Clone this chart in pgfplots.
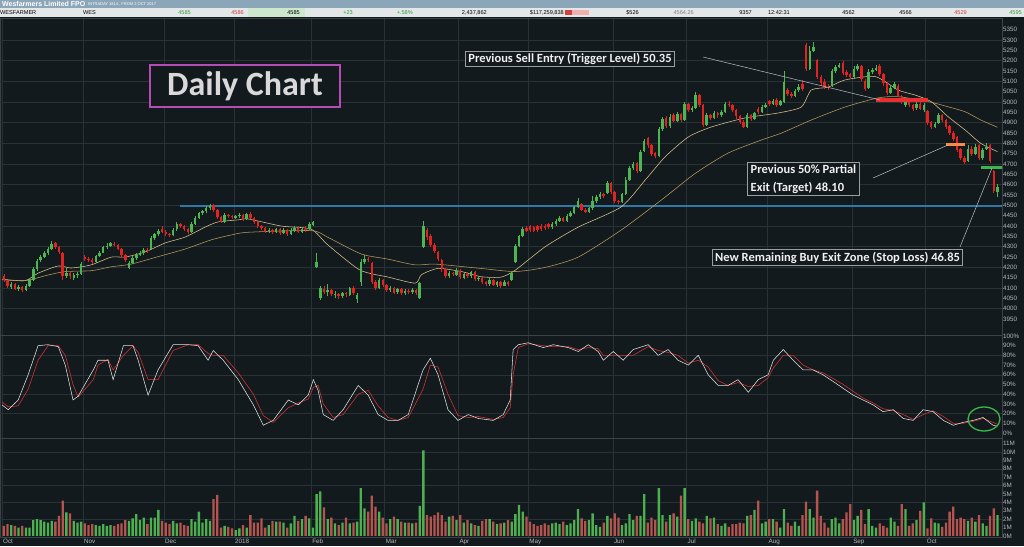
\documentclass[border=0pt]{standalone}
\usepackage{pgfplots}
\pgfplotsset{compat=1.18}
\usepackage{pgfplotstable}
\usepackage{fontspec}
\setmainfont{Liberation Sans}
\newfontfamily\calib{Carlito}
\definecolor{bg}{HTML}{131A1E}
\definecolor{gridc}{HTML}{283136}
\definecolor{sepc}{HTML}{3A4448}
\definecolor{cup}{HTML}{4DB552}
\definecolor{cdn}{HTML}{E32222}
\definecolor{vup}{HTML}{4CAF50}
\definecolor{vdn}{HTML}{B5534E}
\definecolor{maf}{HTML}{D8C48C}
\definecolor{mas}{HTML}{B89A5C}
\definecolor{tickc}{HTML}{B4B8BA}
\definecolor{lvlblue}{HTML}{2F79A8}
\definecolor{titlebar}{HTML}{8CA6B9}
\definecolor{rowbg}{HTML}{E4E7E8}
\definecolor{boxline}{HTML}{9A9FA3}
\definecolor{magbox}{HTML}{B54BB5}
\definecolor{txtg}{HTML}{2E9E3A}
\definecolor{txtr}{HTML}{D03A3A}

\pgfplotstableread{
i o h l c v
0 4160 4170 4130 4140 1.2
1 4135 4140 4100 4110 1.4
2 4105 4130 4095 4120 1.3
3 4120 4125 4090 4095 1.2
4 4095 4115 4085 4105 1.0
5 4105 4110 4080 4090 1.2
6 4090 4118 4085 4110 1.0
7 4110 4150 4105 4140 1.0
8 4140 4200 4135 4190 1.9
9 4190 4240 4185 4230 2.0
10 4235 4260 4225 4250 1.9
11 4250 4280 4245 4270 1.7
12 4270 4300 4262 4290 1.6
13 4290 4330 4285 4315 1.8
14 4318 4325 4290 4300 1.7
15 4300 4305 4265 4275 2.4
16 4270 4275 4140 4160 4.2
17 4160 4195 4150 4175 2.8
18 4175 4185 4145 4160 2.7
19 4150 4175 4140 4165 1.8
20 4165 4180 4150 4170 1.6
21 4170 4225 4165 4215 1.7
22 4250 4258 4230 4240 1.5
23 4240 4250 4225 4235 1.3
24 4235 4245 4218 4228 1.4
25 4228 4262 4222 4255 1.3
26 4255 4280 4250 4272 1.2
27 4272 4305 4268 4298 1.4
28 4298 4318 4290 4305 1.2
29 4305 4325 4298 4318 1.3
30 4315 4324 4302 4310 1.2
31 4310 4315 4282 4290 1.4
32 4290 4294 4250 4260 1.5
33 4262 4266 4225 4235 1.9
34 4195 4230 4190 4220 1.8
35 4220 4255 4215 4245 2.1
36 4245 4270 4238 4262 2.6
37 4262 4278 4255 4270 1.9
38 4270 4295 4262 4285 2.2
39 4285 4292 4272 4280 1.4
40 4290 4350 4285 4340 2.2
41 4340 4368 4335 4360 2.2
42 4360 4385 4352 4378 3.1
43 4385 4400 4365 4370 1.8
44 4372 4380 4352 4362 1.6
45 4360 4368 4345 4358 1.4
46 4355 4390 4350 4380 1.8
47 4385 4418 4378 4410 1.5
48 4410 4415 4390 4398 1.6
49 4398 4405 4378 4385 1.3
50 4385 4392 4362 4372 1.2
51 4372 4418 4368 4410 2.0
52 4410 4448 4405 4440 1.7
53 4440 4470 4435 4462 2.9
54 4462 4480 4455 4472 1.6
55 4472 4495 4465 4488 2.0
56 4488 4508 4480 4498 1.8
57 4500 4505 4470 4478 4.4
58 4478 4482 4435 4442 4.9
59 4442 4448 4415 4422 1.0
60 4420 4462 4415 4455 1.2
61 4455 4460 4440 4450 1.1
62 4450 4455 4432 4442 0.9
63 4440 4455 4432 4448 0.7
64 4448 4462 4440 4455 0.9
65 4455 4460 4425 4432 1.3
66 4432 4465 4428 4458 1.0
67 4460 4468 4432 4440 2.5
68 4440 4445 4410 4420 1.6
69 4420 4425 4392 4400 1.6
70 4400 4405 4380 4390 2.1
71 4390 4395 4365 4375 1.0
72 4375 4390 4368 4382 1.3
73 4382 4388 4362 4370 1.8
74 4370 4392 4365 4385 1.7
75 4385 4390 4358 4365 1.7
76 4365 4390 4360 4380 1.6
77 4380 4385 4352 4360 1.0
78 4360 4392 4355 4378 1.5
79 4378 4400 4370 4392 2.4
80 4392 4398 4365 4372 1.8
81 4372 4395 4368 4388 2.0
82 4388 4398 4372 4380 2.4
83 4385 4418 4380 4410 2.1
84 4405 4425 4398 4420 1.0
85 4200 4270 4195 4225 5.0
86 4050 4110 4040 4100 5.3
87 4095 4108 4070 4080 3.4
88 4080 4120 4060 4090 2.0
89 4090 4095 4060 4070 2.2
90 4068 4085 4050 4072 1.5
91 4070 4075 4048 4062 1.3
92 4062 4082 4050 4075 1.6
93 4075 4080 4055 4070 2.2
94 4068 4105 4062 4100 1.5
95 4100 4110 4068 4075 1.6
96 4045 4075 4030 4065 1.7
97 4130 4240 4110 4225 5.7
98 4225 4260 4215 4240 3.3
99 4240 4250 4225 4235 2.9
100 4220 4225 4120 4130 4.8
101 4130 4140 4090 4100 3.5
102 4100 4150 4095 4140 2.9
103 4140 4145 4105 4115 2.2
104 4115 4120 4082 4090 1.5
105 4090 4110 4080 4100 2.0
106 4100 4105 4070 4078 2.3
107 4080 4102 4072 4095 2.0
108 4095 4100 4068 4075 1.7
109 4075 4095 4068 4088 1.6
110 4088 4095 4072 4080 1.6
111 4080 4098 4072 4092 1.5
112 4090 4095 4068 4078 1.6
113 4050 4130 4045 4125 3.6
114 4300 4425 4295 4400 10.2
115 4380 4390 4335 4345 2.5
116 4350 4360 4300 4310 2.3
117 4310 4318 4270 4280 2.5
118 4275 4280 4232 4240 2.8
119 4235 4240 4180 4190 2.5
120 4190 4195 4150 4160 1.7
121 4160 4185 4150 4172 2.3
122 4172 4180 4158 4168 2.4
123 4165 4195 4160 4182 1.9
124 4185 4190 4145 4152 2.5
125 4150 4180 4142 4170 1.6
126 4170 4178 4150 4158 1.9
127 4158 4185 4150 4178 1.5
128 4178 4182 4135 4142 1.3
129 4142 4160 4135 4150 1.2
130 4150 4155 4118 4128 1.8
131 4128 4135 4110 4120 2.0
132 4120 4148 4112 4140 2.0
133 4140 4145 4108 4115 1.7
134 4115 4135 4105 4128 1.4
135 4128 4132 4100 4112 1.5
136 4112 4138 4108 4130 1.6
137 4130 4135 4110 4120 1.9
138 4140 4180 4135 4175 1.7
139 4225 4312 4220 4305 2.6
140 4305 4358 4298 4350 3.7
141 4350 4395 4345 4385 2.9
142 4390 4398 4370 4378 2.3
143 4398 4405 4372 4380 1.7
144 4395 4402 4370 4378 1.4
145 4398 4405 4372 4382 1.2
146 4400 4408 4378 4385 1.3
147 4402 4410 4382 4390 1.5
148 4408 4415 4388 4395 1.3
149 4395 4418 4388 4410 1.5
150 4410 4432 4402 4425 1.6
151 4425 4448 4420 4440 1.4
152 4440 4445 4418 4425 1.7
153 4425 4458 4420 4450 1.3
154 4450 4472 4445 4465 1.5
155 4465 4498 4460 4490 1.9
156 4490 4535 4485 4520 3.2
157 4505 4510 4472 4480 2.1
158 4480 4488 4462 4470 1.8
159 4470 4492 4465 4485 1.9
160 4485 4545 4480 4520 2.7
161 4520 4550 4512 4540 1.3
162 4540 4565 4530 4555 1.1
163 4555 4560 4538 4545 1.6
164 4560 4620 4555 4610 2.4
165 4610 4615 4555 4565 2.1
166 4565 4570 4510 4520 2.7
167 4520 4528 4505 4515 2.2
168 4515 4562 4510 4555 1.3
169 4555 4635 4550 4625 1.5
170 4625 4690 4620 4680 2.6
171 4680 4712 4672 4700 1.9
172 4705 4712 4655 4665 2.4
173 4665 4768 4660 4760 2.4
174 4765 4820 4758 4812 5.0
175 4825 4832 4780 4790 1.6
176 4790 4795 4740 4750 2.2
177 4752 4760 4728 4738 1.9
178 4738 4880 4735 4870 5.7
179 4870 4930 4862 4920 2.5
180 4925 4932 4875 4882 1.7
181 4882 4940 4875 4930 2.5
182 4935 4945 4902 4910 2.7
183 4910 4950 4905 4942 2.3
184 4942 4948 4905 4915 4.8
185 4915 5000 4910 4990 5.7
186 4990 4995 4950 4960 2.0
187 4960 4980 4950 4972 1.8
188 4972 5050 4965 5035 2.1
189 5035 5040 4975 4985 1.7
190 4985 4990 4880 4890 1.5
191 4890 4945 4882 4935 2.4
192 4935 4942 4915 4925 2.1
193 4925 4955 4918 4948 2.2
194 4948 4952 4925 4935 1.4
195 4935 4960 4928 4952 1.2
196 4952 4998 4945 4990 1.5
197 4990 5005 4978 4985 1.1
198 4985 4990 4950 4960 1.4
199 4960 4965 4920 4932 1.4
200 4932 4938 4895 4905 1.6
201 4905 4912 4872 4880 1.5
202 4880 4945 4875 4935 2.4
203 4935 4942 4910 4920 2.5
204 4920 4952 4915 4945 3.1
205 4965 4975 4940 4950 4.2
206 4950 4985 4945 4975 1.5
207 4975 4995 4970 4985 1.7
208 5005 5012 4982 4990 2.0
209 4990 5015 4985 5005 2.0
210 5010 5018 4978 4985 1.7
211 4985 5012 4980 5005 1.0
212 5000 5150 4995 5095 3.2
213 5060 5070 5030 5040 1.6
214 5040 5050 5020 5030 1.2
215 5030 5065 5025 5055 1.7
216 5060 5085 5050 5075 1.2
217 5085 5105 5055 5065 2.5
218 5275 5285 5150 5160 4.1
219 5160 5270 5155 5245 3.2
220 5245 5290 5240 5265 2.2
221 5205 5210 5110 5120 5.4
222 5120 5130 5080 5090 2.4
223 5095 5110 5065 5075 1.6
224 5075 5085 5058 5068 1.0
225 5080 5160 5075 5150 2.0
226 5150 5180 5140 5170 2.2
227 5170 5190 5165 5178 1.5
228 5190 5200 5130 5140 2.0
229 5145 5155 5120 5130 2.8
230 5135 5140 5110 5120 3.8
231 5120 5175 5110 5160 1.9
232 5160 5185 5150 5175 2.4
233 5175 5180 5100 5110 3.1
234 5100 5110 5055 5065 1.4
235 5070 5160 5065 5145 3.2
236 5145 5165 5135 5155 1.2
237 5155 5178 5148 5165 1.0
238 5175 5185 5125 5135 1.5
239 5135 5140 5080 5090 1.2
240 5090 5095 5035 5045 1.0
241 5045 5080 5040 5070 2.2
242 5070 5095 5062 5085 1.7
243 5080 5085 5022 5030 1.2
244 5030 5035 4990 5000 3.8
245 4985 5018 4978 5010 3.2
246 5005 5010 4975 4985 1.2
247 4985 4990 4955 4965 1.5
248 4970 4998 4962 4990 1.9
249 4990 4998 4960 4968 3.0
250 4960 4995 4950 4985 4.0
251 4955 4962 4890 4900 0.9
252 4905 4910 4870 4878 2.1
253 4880 4905 4872 4895 1.6
254 4900 4945 4895 4938 1.5
255 4935 4940 4905 4912 1.1
256 4912 4918 4870 4880 1.6
257 4885 4890 4840 4850 2.9
258 4850 4858 4810 4820 3.5
259 4830 4835 4760 4770 2.0
260 4775 4780 4720 4730 2.2
261 4730 4740 4700 4710 2.0
262 4715 4790 4710 4775 1.8
263 4775 4785 4740 4750 2.2
264 4750 4795 4745 4782 1.7
265 4790 4795 4720 4730 2.5
266 4730 4780 4722 4770 1.5
267 4775 4800 4768 4782 1.2
268 4790 4795 4705 4715 2.4
269 4665 4670 4560 4570 3.3
270 4565 4605 4540 4590 2.5
}\candles

\pgfplotstableread{
x v
0 4143
6.3 4136
9.8 4172
15.3 4207
18.8 4197
24.2 4212
29.7 4250
33.5 4250
38.9 4275
44.3 4318
49.8 4347
55.2 4395
58.7 4420
64.2 4430
67.0 4434
75.9 4400
84.0 4385
88.6 4308
97.3 4187
105.0 4153
112.3 4124
114.0 4165
118.5 4195
124.8 4180
130.2 4155
135.6 4153
139.5 4187
147.6 4300
156.6 4395
168.2 4492
174.8 4623
180.2 4735
186.5 4831
192.7 4879
201.9 4923
210.9 4947
217.2 4976
219.9 5058
224.5 5072
229.1 5107
237.3 5123
243.5 5058
248.1 5034
252.5 5002
257.1 4929
261.7 4865
266.0 4800
270.5 4760
}\mafast

\pgfplotstableread{
x v
0 4140
6.3 4136
12.5 4163
17.2 4180
24.2 4184
29.7 4203
35.1 4216
42.4 4252
49.8 4289
56.8 4333
62.3 4357
66.9 4370
84.0 4378
88.6 4345
97.6 4265
104.9 4240
112.3 4212
117.7 4216
130.2 4195
139.4 4180
147.6 4200
156.6 4250
168.2 4380
179.1 4525
188.4 4655
197.3 4753
206.3 4816
211.7 4849
219.9 4913
229.1 4976
238.0 5020
243.5 5026
251.7 5002
257.1 4977
261.7 4953
266.0 4913
270.5 4878
}\maslow

\pgfplotstableread{
x k d
0 29 32
1.7 24 27
4.4 34 28
7.1 60 45
9.8 90 75
12.5 91 90
15.3 89 90
17.2 70 80
19.3 34 50
20.7 38 37
24.8 65 55
26.1 75 70
28.8 75 76
30.2 55 65
33.0 90 80
35.6 90 90
37.0 75 83
39.7 39 55
42.4 65 55
46.5 91 85
50.6 91 91
53.3 90 91
56.0 75 82
57.4 85 80
60.1 75 80
64.2 55 62
68.3 29 40
71.0 8 18
73.7 13 11
77.8 34 26
80.5 29 31
83.2 39 35
84.6 55 47
85.9 44 49
87.3 19 30
90.0 13 16
92.7 24 19
96.8 49 40
99.5 39 44
102.2 19 28
104.9 13 16
107.6 13 13
110.4 19 16
114.4 65 45
116.4 77 70
118.5 60 68
121.2 24 40
123.9 13 18
126.7 19 16
129.4 15 17
133.5 13 14
136.2 19 16
138.1 34 26
138.9 86 60
140.3 91 88
143.0 93 92
147.1 88 90
149.8 91 89
153.9 88 89
156.6 84 86
159.3 91 88
162.0 84 87
163.4 75 80
166.1 84 80
168.8 75 80
171.5 86 80
175.6 91 89
178.3 80 85
181.0 86 83
183.7 75 80
186.5 70 72
189.2 80 75
191.9 60 68
194.6 49 54
197.3 49 49
200.0 55 52
202.8 42 48
205.5 55 49
208.2 60 57
209.6 75 67
212.3 86 80
215.0 75 80
217.7 65 70
220.4 65 65
223.1 60 62
225.9 53 56
228.6 46 50
231.3 39 43
234.0 34 36
236.7 29 31
239.4 22 25
242.2 24 23
244.9 15 19
247.6 13 14
250.3 24 19
253.0 22 23
255.8 13 17
258.5 8 10
261.2 11 10
263.9 13 12
266.6 16 15
269.3 8 11
270.5 7 9
}\stoch

\pgfplotsset{
  panel/.style={scale only axis, width=1002pt,
    xmin=-0.543, xmax=271.74,
    axis background/.style={fill=bg},
    axis line style={draw=sepc},
    xtick={0,22,44,63,84,104,124,143,166,186,208,231,251},
    xmajorgrids, grid style={gridc, line width=0.5pt},
    major tick length=0pt, minor tick length=0pt,
    yticklabel pos=right,
    yticklabel style={font=\fontsize{6.3}{7}\selectfont, text=tickc, anchor=west, inner sep=1pt},
    /pgf/number format/assume math mode=true,
    /pgf/number format/1000 sep={}},
}

\begin{document}
\begin{tikzpicture}
\useasboundingbox (0pt,0pt) rectangle (1024pt,546pt);
\fill[bg] (0pt,0pt) rectangle (1024pt,546pt);

% ---------- price panel
\begin{axis}[panel, at={(0pt,211pt)}, anchor=south west, height=317pt,
  ymin=3873, ymax=5406.6,
  ytick={3950,4000,...,5350},
  extra y ticks={4000,4100,...,5300}, extra y tick labels={},
  extra y tick style={grid=major},
  xticklabels={}]
% level line
\addplot[lvlblue, line width=2pt, forget plot] coordinates {(48.4,4496) (272,4496)};
% moving averages
\addplot[maf, line width=0.55pt, smooth, tension=0.4] table[x=x,y=v] {\mafast};
\addplot[mas, line width=0.55pt, smooth, tension=0.4] table[x=x,y=v] {\maslow};
% wicks (segments low -> high)
\addplot[-, cup, line width=0.6pt, forget plot, quiver={u=0, v=\thisrow{h}-\thisrow{l}}]
  table[x expr=\thisrow{i}+0.5, y=l, restrict expr to domain={\thisrow{c}-\thisrow{o}}{0:10000}] {\candles};
\addplot[-, cdn, line width=0.6pt, forget plot, quiver={u=0, v=\thisrow{h}-\thisrow{l}}]
  table[x expr=\thisrow{i}+0.5, y=l, restrict expr to domain={\thisrow{c}-\thisrow{o}}{-10000:-0.01}] {\candles};
% bodies (segments open -> close)
\addplot[-, cup, line width=2.5pt, forget plot, quiver={u=0, v={max(\thisrow{c}-\thisrow{o},3)}}]
  table[x expr=\thisrow{i}+0.5, y=o, restrict expr to domain={\thisrow{c}-\thisrow{o}}{0:10000}] {\candles};
\addplot[-, cdn, line width=2.5pt, forget plot, quiver={u=0, v={max(\thisrow{o}-\thisrow{c},3)}}]
  table[x expr=\thisrow{i}+0.5, y=c, restrict expr to domain={\thisrow{c}-\thisrow{o}}{-10000:-0.01}] {\candles};
% trade levels
\addplot[color={rgb,255:red,232;green,48;blue,48}, line width=3.6pt, forget plot] coordinates {(237.5,5010) (251.7,5010)};
\addplot[color={rgb,255:red,245;green,140;blue,70}, line width=3pt, forget plot] coordinates {(256.6,4796) (261.7,4796)};
\addplot[color={rgb,255:red,60;green,180;blue,80}, line width=3pt, forget plot] coordinates {(266.1,4683) (272,4683)};
\end{axis}

% ---------- stochastic panel
\begin{axis}[panel, at={(0pt,108pt)}, anchor=south west, height=103pt,
  ymin=-5.15, ymax=101,
  ytick={0,10,...,100},
  yticklabels={0\%,10\%,20\%,30\%,40\%,50\%,60\%,70\%,80\%,90\%,100\%},
  extra y ticks={20,40,60,80}, extra y tick labels={},
  extra y tick style={grid=major},
  xticklabels={}]
\addplot[color={rgb,255:red,220;green,50;blue,50}, line width=0.55pt] table[x=x,y=d] {\stoch};
\addplot[color={rgb,255:red,225;green,225;blue,225}, line width=0.55pt] table[x=x,y=k] {\stoch};
\end{axis}

% ---------- volume panel
\begin{axis}[panel, at={(0pt,9pt)}, anchor=south west, height=99pt,
  ymin=-0.12, ymax=11.67,
  ytick={0,1,...,11},
  yticklabels={0M,1M,2M,3M,4M,5M,6M,7M,8M,9M,10M,11M},
  extra y ticks={2,4,6,8,10}, extra y tick labels={},
  extra y tick style={grid=major},
  xticklabels={Oct,Nov,Dec,2018,Feb,Mar,Apr,May,Jun,Jul,Aug,Sep,Oct},
  xticklabel style={anchor=north west, font=\fontsize{6.3}{7}\selectfont, text=tickc, inner sep=1pt, yshift=-0.5pt}]
\addplot[ybar, bar width=2.3pt, bar shift=0pt, fill=vup, draw=none]
  table[x expr=\thisrow{i}+0.5, y=v, restrict expr to domain={\thisrow{c}-\thisrow{o}}{0:10000}] {\candles};
\addplot[ybar, bar width=2.3pt, bar shift=0pt, fill=vdn, draw=none]
  table[x expr=\thisrow{i}+0.5, y=v, restrict expr to domain={\thisrow{c}-\thisrow{o}}{-10000:-0.01}] {\candles};
\end{axis}

% ---------- header
\fill[titlebar] (0pt,537.5pt) rectangle (1024pt,546pt);
\fill[rowbg] (0pt,529pt) rectangle (1024pt,537.5pt);
\fill[color={rgb,255:red,205;green,232;blue,205}] (248pt,529pt) rectangle (305pt,537.5pt);
\fill[color={rgb,255:red,208;green,64;blue,64}] (565pt,530.5pt) rectangle (572pt,536pt);
\fill[color={rgb,255:red,240;green,176;blue,176}] (572pt,530.5pt) rectangle (589pt,536pt);
\node[anchor=west, inner sep=0pt, text=white, font=\bfseries\fontsize{7}{7}\selectfont] at (2pt,541.8pt) {Wesfarmers Limited FPO};
\node[anchor=west, inner sep=0pt, text=white, font=\fontsize{4}{4}\selectfont] at (88pt,541.6pt) {INTRADAY 1814 , FROM 2 OCT 2017};
\begin{scope}[every node/.style={inner sep=0pt, font=\fontsize{5.6}{6}\selectfont}]
\node[anchor=west] at (0pt,533.2pt) {WESFARMER};
\node[anchor=west] at (83pt,533.2pt) {WES};
\node[anchor=east, text=txtg] at (191pt,533.2pt) {4585};
\node[anchor=east, text=txtr] at (244pt,533.2pt) {4586};
\node[anchor=east] at (300pt,533.2pt) {4585};
\node[anchor=east, text=txtg] at (353pt,533.2pt) {+23};
\node[anchor=east, text=txtg] at (413pt,533.2pt) {+.58\%};
\node[anchor=east] at (487pt,533.2pt) {2,437,862};
\node[anchor=east] at (564pt,533.2pt) {\$117,259,838};
\node[anchor=east] at (639pt,533.2pt) {\$526};
\node[anchor=east, text=gray] at (694pt,533.2pt) {4564.26};
\node[anchor=east] at (752pt,533.2pt) {9357};
\node[anchor=east] at (790pt,533.2pt) {12:42:31};
\node[anchor=east] at (855pt,533.2pt) {4562};
\node[anchor=east] at (912pt,533.2pt) {4566};
\node[anchor=east, text=txtr] at (967pt,533.2pt) {4529};
\node[anchor=east, text=txtg] at (1022pt,533.2pt) {4595};
\end{scope}

% ---------- annotations
\draw[color={rgb,255:red,185;green,190;blue,195}, line width=0.5pt] (703pt,489pt) -- (880pt,446pt);
\draw[color={rgb,255:red,185;green,190;blue,195}, line width=0.5pt] (873pt,368pt) -- (948pt,401pt);
\draw[color={rgb,255:red,185;green,190;blue,195}, line width=0.5pt] (960pt,299pt) -- (992pt,378pt);

\node[draw=magbox, line width=1.5pt, fill=bg, text={rgb,255:red,217;green,217;blue,217},
  minimum width=190pt, minimum height=42pt, inner sep=2pt,
  font=\calib\bfseries\fontsize{34}{36}\selectfont] at (245pt,460pt) {Daily Chart};

\begin{scope}[every node/.style={draw=boxline, line width=0.9pt, fill=bg, text={rgb,255:red,240;green,240;blue,240},
   inner xsep=3pt, inner ysep=2pt, font=\calib\bfseries\fontsize{12.5}{18}\selectfont}]
\node at (570pt,487pt) {Previous Sell Entry (Trigger Level) 50.35};
\node[align=left] at (803.5pt,367pt) {Previous 50\% Partial\\Exit (Target) 48.10};
\node at (837.5pt,288.5pt) {New Remaining Buy Exit Zone (Stop Loss) 46.85};
\end{scope}

\draw[color={rgb,255:red,60;green,185;blue,70}, line width=1.3pt] (984pt,127pt) ellipse [x radius=16pt, y radius=12pt];
\end{tikzpicture}
\end{document}
